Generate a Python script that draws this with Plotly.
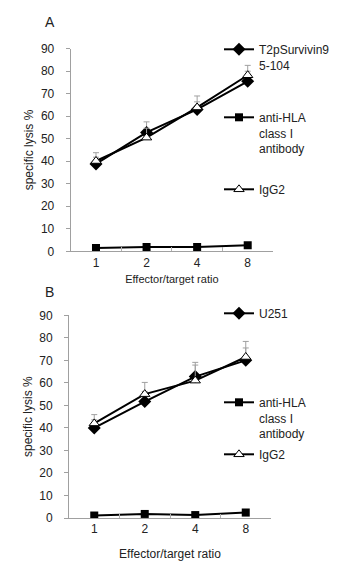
import plotly.graph_objects as go

categories = ["1", "2", "4", "8"]

# Panel A
a_t2p = [38.8, 52.8, 63.0, 75.5]
a_t2p_err = [3.0, 4.7, 6.0, 4.5]
a_hla = [1.5, 1.9, 1.9, 2.7]
a_igg = [40.1, 50.5, 63.9, 78.2]
a_igg_err = [3.7, 4.2, 2.5, 4.4]

# Panel B
b_u251 = [40.0, 51.7, 62.8, 70.0]
b_u251_err = [3.6, 4.5, 6.3, 5.5]
b_hla = [1.1, 1.8, 1.3, 2.4]
b_igg = [42.0, 55.0, 61.0, 71.5]
b_igg_err = [3.9, 5.2, 6.9, 6.9]

names_a = ["T2pSurvivin9<br>5-104", "anti-HLA<br>class I<br>antibody", "IgG2"]
names_b = ["U251", "anti-HLA<br>class I<br>antibody", "IgG2"]

W, H = 342, 573
FONT = "Liberation Sans, Arial, sans-serif"
ERRC = "#a0a0a0"

fig = go.Figure()

def add_panel(xa, ya, hla, main, main_err, igg, igg_err, names, legs):
    fig.add_trace(go.Scatter(
        x=categories, y=hla, name=names[1], xaxis=xa, yaxis=ya, legend=legs[1],
        mode="lines+markers", line=dict(color="black", width=2),
        marker=dict(symbol="square", size=8, color="black")))
    fig.add_trace(go.Scatter(
        x=categories, y=main, name=names[0], xaxis=xa, yaxis=ya, legend=legs[0],
        mode="lines+markers", line=dict(color="black", width=2),
        marker=dict(symbol="diamond", size=10, color="black"),
        error_y=dict(type="data", symmetric=False, array=main_err,
                     arrayminus=[0] * len(main_err), color=ERRC, thickness=1, width=3)))
    fig.add_trace(go.Scatter(
        x=categories, y=igg, name=names[2], xaxis=xa, yaxis=ya, legend=legs[2],
        mode="lines+markers", line=dict(color="black", width=2),
        marker=dict(symbol="triangle-up", size=9, color="white",
                    line=dict(color="black", width=1)),
        error_y=dict(type="data", symmetric=False, array=igg_err,
                     arrayminus=[0] * len(igg_err), color=ERRC, thickness=1, width=3)))

add_panel("x", "y", a_hla, a_t2p, a_t2p_err, a_igg, a_igg_err, names_a,
          ["legend", "legend2", "legend3"])
add_panel("x2", "y2", b_hla, b_u251, b_u251_err, b_igg, b_igg_err, names_b,
          ["legend4", "legend5", "legend6"])

def py(px):
    return 1 - px / H

def xaxis_cfg(domain, title_size, standoff):
    return dict(domain=domain, type="category", range=[-0.5, 3.5],
                tickson="boundaries", ticks="inside", ticklen=4, tickcolor="#b0b0b0",
                showline=True, linecolor="#a0a0a0", linewidth=1, showgrid=False,
                zeroline=False, tickfont=dict(size=12, color="#222"),
                ticklabelstandoff=0,
                title=dict(text="Effector/target ratio", font=dict(size=title_size, color="#222"),
                           standoff=standoff),
                automargin=False, fixedrange=True)

def yaxis_cfg(domain, anchor):
    return dict(domain=domain, anchor=anchor, range=[0, 90], dtick=10,
                ticks="outside", ticklen=4, tickcolor="#a0a0a0",
                showline=True, linecolor="#a0a0a0", linewidth=1, showgrid=False,
                zeroline=False, tickfont=dict(size=12, color="#222"),
                ticklabelstandoff=9,
                title=dict(text="specific lysis %", font=dict(size=12, color="#222"),
                           standoff=4),
                automargin=False, fixedrange=True)

legend_base = dict(font=dict(size=12, family=FONT, color="#222"), bgcolor="rgba(0,0,0,0)",
                   xanchor="left", yanchor="top", valign="top", itemwidth=30,
                   tracegroupgap=0, borderwidth=0)

def leg(xpx, ypx):
    d = dict(legend_base)
    d.update(x=xpx / W, y=py(ypx))
    return d

LX = 211
fig.update_layout(
    width=W, height=H, margin=dict(l=0, r=0, t=0, b=0),
    paper_bgcolor="white", plot_bgcolor="white", template="none",
    font=dict(family=FONT, size=12, color="#222"),
    xaxis=xaxis_cfg([62.7 / W, 265 / W], 11, 6),
    yaxis=yaxis_cfg([py(243.3), py(40.7)], "x"),
    xaxis2=xaxis_cfg([61 / W, 263 / W], 12, 14),
    yaxis2=yaxis_cfg([py(510), py(307.3)], "x2"),
    legend=leg(LX, 27),
    legend2=leg(LX, 95),
    legend3=leg(LX, 167),
    legend4=leg(LX, 291),
    legend5=leg(LX, 380),
    legend6=leg(LX, 432),
    showlegend=True,
    annotations=[
        dict(text="A", x=35 / W, y=py(14), xref="paper", yref="paper", showarrow=False,
             xanchor="left", yanchor="middle", font=dict(size=14, color="#222")),
        dict(text="B", x=35 / W, y=py(284), xref="paper", yref="paper", showarrow=False,
             xanchor="left", yanchor="middle", font=dict(size=14, color="#222")),
    ],
)
fig.layout.xaxis2.anchor = "y2"
fig.layout.xaxis.anchor = "y"

fig.write_html("out.html")
